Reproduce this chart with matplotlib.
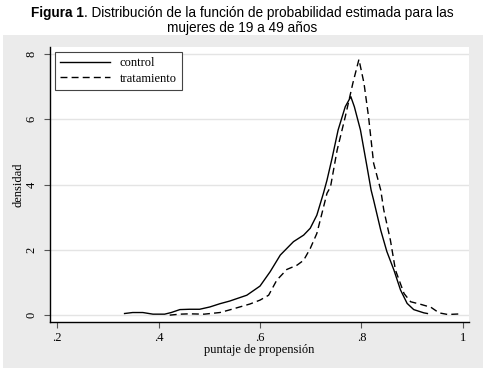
import matplotlib
matplotlib.use("Agg")
import matplotlib.pyplot as plt
from matplotlib.patches import Rectangle

# curve points
control_x = [0.333, 0.349, 0.369, 0.389, 0.412, 0.425, 0.442, 0.461, 0.481, 0.501, 0.521,
             0.54, 0.574, 0.60, 0.62, 0.64, 0.666, 0.686, 0.699, 0.712, 0.725, 0.732,
             0.742, 0.754, 0.768, 0.779, 0.786, 0.798, 0.811, 0.819, 0.824, 0.838,
             0.850, 0.864, 0.877, 0.89, 0.903, 0.923, 0.93]
control_y = [0.05, 0.08, 0.08, 0.03, 0.03, 0.08, 0.17, 0.18, 0.18, 0.25, 0.35,
             0.43, 0.61, 0.89, 1.33, 1.84, 2.25, 2.45, 2.66, 3.06, 3.73, 4.13,
             4.80, 5.67, 6.38, 6.69, 6.38, 5.67, 4.54, 3.83, 3.52, 2.60,
             1.95, 1.38, 0.77, 0.36, 0.17, 0.07, 0.05]

trat_x = [0.422, 0.442, 0.461, 0.49, 0.521, 0.54, 0.56, 0.58, 0.60, 0.617, 0.633,
          0.653, 0.673, 0.686, 0.699, 0.712, 0.722, 0.732, 0.739, 0.752, 0.768,
          0.783, 0.795, 0.805, 0.814, 0.824, 0.838, 0.844, 0.857, 0.867, 0.884,
          0.897, 0.917, 0.937, 0.953, 0.97, 0.998]
trat_y = [0.0, 0.03, 0.04, 0.03, 0.08, 0.16, 0.25, 0.34, 0.46, 0.61, 1.07,
          1.40, 1.53, 1.68, 2.04, 2.50, 3.11, 3.73, 3.93, 5.05, 6.07,
          7.10, 7.83, 7.10, 6.07, 4.65, 3.83, 3.22, 2.30, 1.38, 0.66,
          0.41, 0.33, 0.24, 0.07, 0.02, 0.04]

x_ticks = [0.2, 0.4, 0.6, 0.8, 1.0]
x_labels = [".2", ".4", ".6", ".8", "1"]
y_ticks = [0, 2, 4, 6, 8]

serif = ["Liberation Serif", "DejaVu Serif"]
sans = ["Liberation Sans", "DejaVu Sans"]

fig = plt.figure(figsize=(4.85, 3.72), dpi=100)
fig.patches.append(Rectangle((3 / 485, 4 / 372), 480 / 485, 333 / 372,
                             transform=fig.transFigure, facecolor="#ebebeb",
                             edgecolor="none", zorder=-5))

ax = fig.add_axes([50 / 485, 50 / 372, 419 / 485, 275 / 372])
ax.set_zorder(2)
ax.set_facecolor("white")
ax.plot(control_x, control_y, color="black", lw=1.0, label="control")
ax.plot(trat_x, trat_y, color="black", lw=1.0, ls=(0, (5, 3)), label="tratamiento")

ax.set_xlim(0.186, 1.012)
ax.set_ylim(-0.21, 8.21)
ax.set_xticks(x_ticks)
ax.set_xticklabels(x_labels, family=serif, fontsize=9)
ax.set_yticks(y_ticks)
ax.set_yticklabels([str(v) for v in y_ticks], family=serif, fontsize=9,
                   rotation=90, va="center")
ax.tick_params(direction="out", length=4, width=0.8, color="#555555")
ax.tick_params(axis="y", pad=5)
for s in ["top", "right"]:
    ax.spines[s].set_visible(False)
for s in ["left", "bottom"]:
    ax.spines[s].set_linewidth(1.0)
ax.grid(axis="y", color="#e4e4e4", lw=1.0)
ax.set_axisbelow(True)

ax.set_xlabel("puntaje de propensión", family=serif, fontsize=9, labelpad=0)
ax.set_ylabel("densidad", family=serif, fontsize=9, labelpad=1)

leg = ax.legend(loc="upper left", prop={"family": serif, "size": 9},
                fancybox=False, framealpha=1, edgecolor="#444444",
                borderaxespad=0.4, handlelength=4.0, labelspacing=0.3)
leg.get_frame().set_linewidth(0.8)

# title, first words bold
fig.canvas.draw()
r = fig.canvas.get_renderer()
fs = 9.8
t1 = fig.text(0.5, 1 - 13 / 372, "Figura 1", fontsize=fs, family=sans,
              weight="bold", va="center", ha="left")
t2 = fig.text(0.5, 1 - 13 / 372, ". Distribución de la función de probabilidad estimada para las",
              fontsize=fs, family=sans, va="center", ha="left")
w1 = t1.get_window_extent(r).width
w2 = t2.get_window_extent(r).width
x0 = (485 - (w1 + w2)) / 2
t1.set_x(x0 / 485)
t2.set_x((x0 + w1) / 485)
fig.text(0.5, 1 - 28 / 372, "mujeres de 19 a 49 años", fontsize=fs, family=sans,
         va="center", ha="center")

fig.savefig("out.png", dpi=100)
